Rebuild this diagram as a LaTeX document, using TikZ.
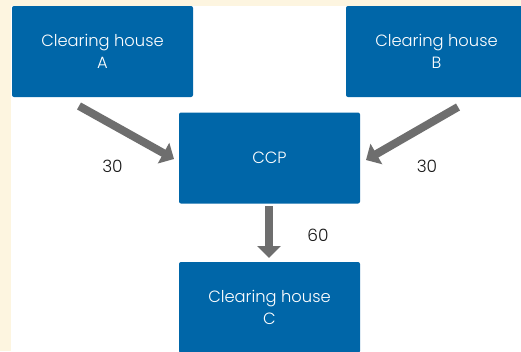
\documentclass[tikz,border=0pt]{standalone}
\usepackage{fontspec}
\setmainfont{Poppins Light}
\usetikzlibrary{arrows.meta,positioning}
\definecolor{chblue}{RGB}{0,102,168}
\definecolor{chcream}{RGB}{253,245,224}
\definecolor{chgray}{RGB}{110,110,110}
\tikzset{
  house/.style={fill=chblue, rounded corners=2pt, minimum width=181pt, minimum height=91pt,
    inner sep=0pt, text=white, align=center, font=\fontsize{16.3}{22}\selectfont},
  flow/.style={draw=chgray, line width=8pt, -{Triangle[width=23pt,length=12pt]}},
  amount/.style={text=black!90, font=\fontsize{17}{20}\selectfont}
}
\begin{document}
\begin{tikzpicture}[x=1pt,y=-1pt]
  % --- Background ---
  \fill[chcream] (0,0) rectangle (521,351);
  \fill[white] (11,6) rectangle (521,351);
  \useasboundingbox (0,0) rectangle (521,351);
  \clip (0,0) rectangle (521,351);
  % --- Boxes ---
  \node[house] (ha) at (102.5,51.5) {Clearing house\\A};
  \node[house] (hb) at (436.5,51.5) {Clearing house\\B};
  \node[house] (ccp) at (269.5,158) {CCP};
  \node[house] (hc) at (269.5,307.5) {Clearing house\\C};
  % --- Arrow ends ---
  \coordinate (atail) at (79,106);
  \coordinate (ahead) at (174,159);
  \coordinate (btail) at (458,107);
  \coordinate (bhead) at (366,160);
  \coordinate (ctail) at (269,206);
  \coordinate (chead) at (269,258);
  % --- Flows ---
  \draw[flow] (atail) -- (ahead);
  \draw[flow] (btail) -- (bhead);
  \draw[flow] (ctail) -- (chead);
  % --- Amounts ---
  \node[amount] (qa) at (112.5,166) {30};
  \node[amount] (qb) at (427,166) {30};
  \node[amount] (qc) at (318,235) {60};
\end{tikzpicture}
\end{document}
